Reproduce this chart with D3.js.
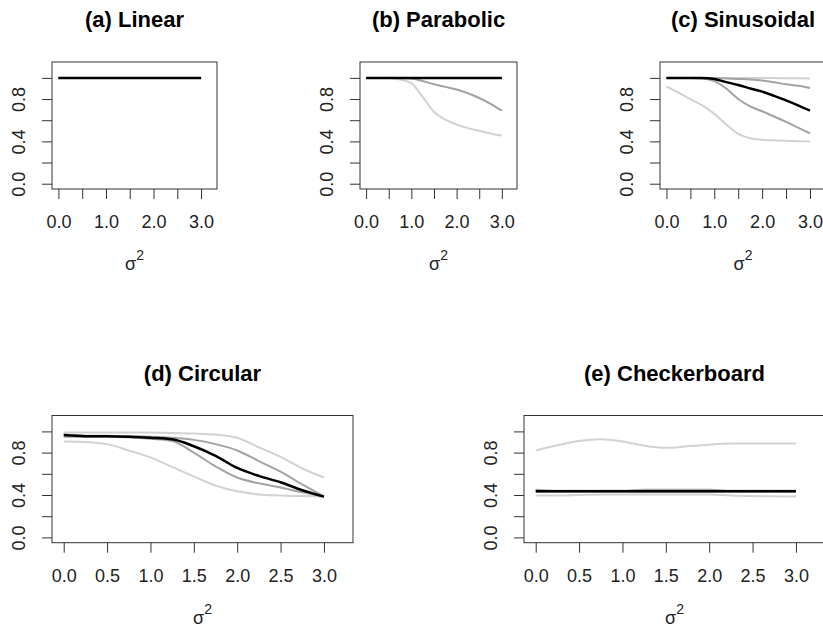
<!DOCTYPE html>
<html>
<head>
<meta charset="utf-8">
<script src="https://cdn.jsdelivr.net/npm/d3@7"></script>
<style>
body { margin: 0; background: #fff; }
text { font-family: "Liberation Sans", Arial, sans-serif; }
</style>
</head>
<body>
<script>
// sigma^2 grid shared by every curve
var sigma2 = [0, 0.25, 0.5, 0.75, 1, 1.25, 1.5, 1.75, 2, 2.25, 2.5, 2.75, 3];

var titles = ["(a) Linear", "(b) Parabolic", "(c) Sinusoidal", "(d) Circular", "(e) Checkerboard"];
var xTicks = [0, 0.5, 1, 1.5, 2, 2.5, 3];
var yTicks = [0, 0.2, 0.4, 0.6, 0.8, 1.0];
var yTickLabels = ["0.0", "", "0.4", "", "0.8", ""];

// each panel: outer upper, inner upper, median, inner lower, outer lower
var linear = [
    [1, 1, 1, 1, 1, 1, 1, 1, 1, 1, 1, 1, 1],
    [1, 1, 1, 1, 1, 1, 1, 1, 1, 1, 1, 1, 1],
    [1, 1, 1, 1, 1, 1, 1, 1, 1, 1, 1, 1, 1],
    [1, 1, 1, 1, 1, 1, 1, 1, 1, 1, 1, 1, 1],
    [1, 1, 1, 1, 1, 1, 1, 1, 1, 1, 1, 1, 1]
];
var parabolic = [
    [1, 1, 1, 1, 1, 1, 1, 1, 1, 1, 1, 1, 1],
    [1, 1, 1, 1, 1, 1, 1, 1, 1, 1, 1, 1, 1],
    [1, 1, 1, 1, 1, 1, 1, 1, 1, 1, 1, 1, 1],
    [1, 1, 1, 1, 0.995, 0.97, 0.94, 0.915, 0.89, 0.855, 0.81, 0.755, 0.69],
    [1, 1, 1, 0.985, 0.95, 0.82, 0.68, 0.605, 0.56, 0.525, 0.5, 0.475, 0.455]
];
var sinusoidal = [
    [1, 1, 1, 1, 1, 1, 1, 1, 1, 0.998, 0.997, 0.996, 0.995],
    [1, 1, 1, 1, 1, 0.995, 0.99, 0.985, 0.975, 0.958, 0.94, 0.925, 0.905],
    [1, 1, 1, 1, 0.99, 0.96, 0.933, 0.9, 0.87, 0.83, 0.787, 0.74, 0.69],
    [1, 1, 1, 0.995, 0.97, 0.9, 0.8, 0.73, 0.685, 0.635, 0.585, 0.53, 0.475],
    [0.92, 0.86, 0.8, 0.74, 0.66, 0.56, 0.47, 0.43, 0.415, 0.41, 0.405, 0.402, 0.4]
];
var circular = [
    [0.99, 0.99, 0.99, 0.99, 0.99, 0.985, 0.98, 0.97, 0.94, 0.85, 0.76, 0.65, 0.565],
    [0.97, 0.96, 0.96, 0.955, 0.95, 0.94, 0.92, 0.88, 0.82, 0.72, 0.62, 0.5, 0.387],
    [0.965, 0.955, 0.955, 0.95, 0.94, 0.925, 0.86, 0.77, 0.655, 0.58, 0.52, 0.445, 0.385],
    [0.95, 0.95, 0.95, 0.945, 0.93, 0.91, 0.8, 0.67, 0.565, 0.51, 0.47, 0.425, 0.385],
    [0.905, 0.9, 0.88, 0.82, 0.755, 0.665, 0.575, 0.49, 0.435, 0.405, 0.395, 0.39, 0.385]
];
var checkerboard = [
    [0.82, 0.87, 0.91, 0.925, 0.905, 0.865, 0.845, 0.86, 0.875, 0.885, 0.885, 0.885, 0.885],
    [0.45, 0.44, 0.44, 0.44, 0.44, 0.45, 0.45, 0.45, 0.45, 0.44, 0.44, 0.44, 0.44],
    [0.435, 0.435, 0.435, 0.435, 0.435, 0.435, 0.435, 0.435, 0.435, 0.435, 0.435, 0.435, 0.435],
    [0.43, 0.43, 0.43, 0.43, 0.43, 0.43, 0.43, 0.43, 0.43, 0.43, 0.43, 0.43, 0.43],
    [0.395, 0.395, 0.4, 0.405, 0.405, 0.405, 0.405, 0.405, 0.405, 0.395, 0.39, 0.388, 0.385]
];

var panelData = [linear, parabolic, sinusoidal, circular, checkerboard];

// plot boxes in pixels; top row labels only whole numbers on x
var boxes = [
    {left: 52, right: 217, top: 62, bottom: 189, wholeOnly: true},
    {left: 360, right: 517, top: 62, bottom: 189, wholeOnly: true},
    {left: 660, right: 826, top: 62, bottom: 189, wholeOnly: true},
    {left: 52, right: 353, top: 415.5, bottom: 542.7, wholeOnly: false},
    {left: 524, right: 825, top: 415.5, bottom: 542.7, wholeOnly: false}
];

// line styles: outer bands light, inner bands mid gray, median black
var lineColor = ["#d2d2d2", "#a3a3a3", "#000000", "#a3a3a3", "#d2d2d2"];
var lineWidth = [2, 2, 2.5, 2, 2];
var drawOrder = [0, 4, 1, 3, 2];

var svg = d3.select("body").append("svg")
    .attr("width", 823)
    .attr("height", 633);

panelData.forEach(function(series, i) {
    drawPanel(svg, boxes[i], titles[i], series);
});

function drawPanel(svg, box, title, series) {
    var x = d3.scaleLinear().domain([-0.135, 3.335]).range([box.left, box.right]);
    var y = d3.scaleLinear().domain([-0.05, 1.15]).range([box.bottom, box.top]);
    var g = svg.append("g");

    // curves
    var line = d3.line()
        .x(function(d, j) { return x(sigma2[j]); })
        .y(function(d) { return y(d); })
        .curve(d3.curveMonotoneX);
    drawOrder.forEach(function(k) {
        g.append("path")
            .datum(series[k])
            .attr("d", line)
            .attr("fill", "none")
            .attr("stroke", lineColor[k])
            .attr("stroke-width", lineWidth[k])
            .attr("stroke-linejoin", "round");
    });

    // box
    g.append("rect")
        .attr("x", box.left)
        .attr("y", box.top)
        .attr("width", box.right - box.left)
        .attr("height", box.bottom - box.top)
        .attr("fill", "none")
        .attr("stroke", "#333")
        .attr("stroke-width", 1);

    // x axis
    var xAxis = d3.axisBottom(x)
        .tickValues(xTicks)
        .tickSize(10)
        .tickSizeOuter(0)
        .tickFormat(function(d) {
            if (box.wholeOnly && d % 1 !== 0) return "";
            return d3.format(".1f")(d);
        });
    var gX = g.append("g")
        .attr("transform", "translate(0," + box.bottom + ")")
        .call(xAxis);
    gX.select(".domain").remove();
    gX.selectAll("line").attr("stroke", "#333");
    gX.selectAll("text")
        .attr("y", 33)
        .attr("dy", "0.35em")
        .attr("fill", "#222")
        .style("font-size", "18px")
        .style("font-family", "'Liberation Sans', Arial, sans-serif");

    // y axis
    var yAxis = d3.axisLeft(y)
        .tickValues(yTicks)
        .tickSize(10)
        .tickSizeOuter(0)
        .tickFormat(function(d, j) { return yTickLabels[j]; });
    var gY = g.append("g")
        .attr("transform", "translate(" + box.left + ",0)")
        .call(yAxis);
    gY.select(".domain").remove();
    gY.selectAll("line").attr("stroke", "#333");
    gY.selectAll(".tick text")
        .attr("x", null)
        .attr("transform", "translate(-33,0) rotate(-90)")
        .attr("text-anchor", "middle")
        .attr("dy", "0.35em")
        .attr("fill", "#222")
        .style("font-size", "18px")
        .style("font-family", "'Liberation Sans', Arial, sans-serif");

    var cx = (box.left + box.right) / 2;

    // title
    g.append("text")
        .attr("x", cx)
        .attr("y", box.top - 35)
        .attr("text-anchor", "middle")
        .style("font-size", "22px")
        .style("font-weight", "bold")
        .text(title);

    // sigma^2 label
    var lab = g.append("text")
        .attr("x", cx)
        .attr("y", box.bottom + 81)
        .attr("text-anchor", "middle")
        .attr("fill", "#222")
        .style("font-size", "18px");
    lab.append("tspan").text("σ");
    lab.append("tspan")
        .attr("dy", -10)
        .style("font-size", "14px")
        .text("2");
}
</script>
</body>
</html>
